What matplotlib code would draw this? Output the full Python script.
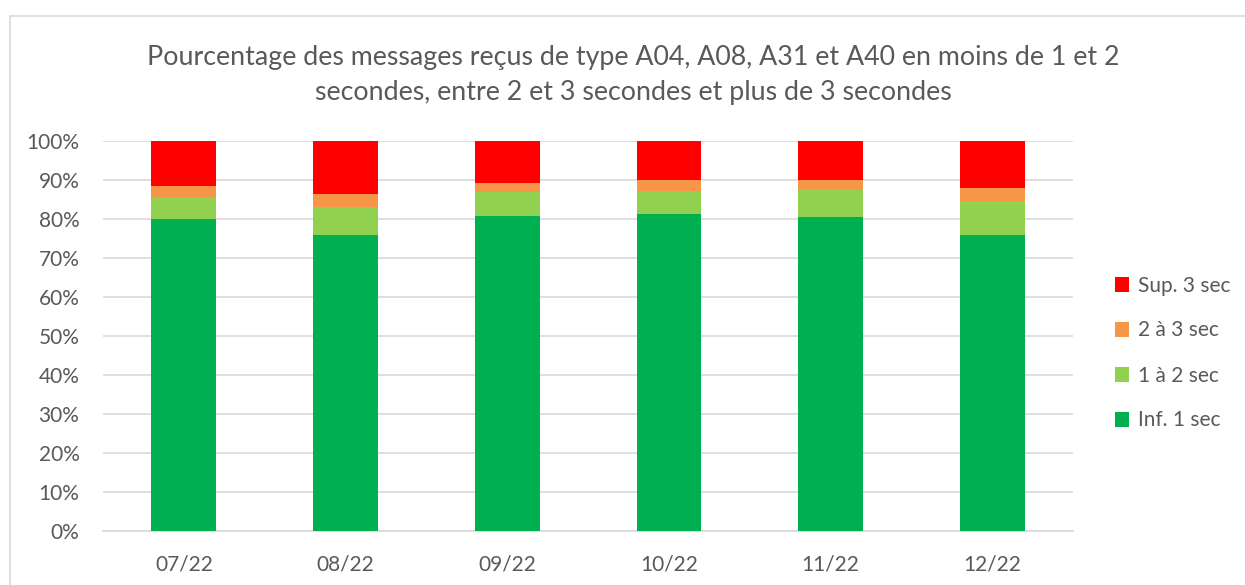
import matplotlib
matplotlib.use("Agg")
import matplotlib.pyplot as plt
import numpy as np

plt.rcParams['font.family'] = ['Lato', 'DejaVu Sans']

months = ["07/22", "08/22", "09/22", "10/22", "11/22", "12/22"]
inf_1 = [80.0, 76.0, 80.8, 81.3, 80.6, 75.8]
un_a_deux = [5.7, 7.0, 6.0, 5.8, 7.1, 8.7]
deux_a_trois = [2.7, 3.4, 2.4, 3.0, 2.4, 3.5]
sup_3 = [11.6, 13.6, 10.8, 9.9, 9.9, 12.0]

series_names = ["Inf. 1 sec", "1 à 2 sec", "2 à 3 sec", "Sup. 3 sec"]
series_colors = ["#00B050", "#92D050", "#F79646", "#FF0000"]
title = ("Pourcentage des messages reçus de type A04, A08, A31 et A40 en moins de 1 et 2\n"
         "secondes, entre 2 et 3 secondes et plus de 3 secondes")

text_color = "#595959"
grid_color = "#D9D9D9"

fig = plt.figure(figsize=(12.45, 5.85), dpi=100)
ax = fig.add_axes([103 / 1245, 1 - 531 / 585, 970 / 1245, 390 / 585])

# chart area border (top and left visible)
fig.add_artist(plt.Line2D([10 / 1245, 1.01], [1 - 16 / 585] * 2, color=grid_color, lw=1.2))
fig.add_artist(plt.Line2D([10 / 1245] * 2, [-0.01, 1 - 16 / 585], color=grid_color, lw=1.2))

x = np.arange(len(months))
bottom = np.zeros(len(months))
handles = []
for vals, name, col in zip([inf_1, un_a_deux, deux_a_trois, sup_3], series_names, series_colors):
    vals = np.array(vals) / 100.0
    h = ax.bar(x, vals, 0.4, bottom=bottom, color=col, label=name, zorder=3)
    handles.append(h)
    bottom = bottom + vals

ax.set_xlim(-0.5, len(months) - 0.5)
ax.set_ylim(0, 1)
ax.set_yticks(np.arange(0, 1.01, 0.1))
ax.set_yticklabels([f"{int(round(v * 100))}%" for v in np.arange(0, 1.01, 0.1)])
ax.set_xticks(x)
ax.set_xticklabels(months)
ax.tick_params(axis='both', length=0, labelsize=15, colors=text_color)
ax.tick_params(axis='y', pad=17)
ax.tick_params(axis='x', pad=17)

ax.grid(axis='y', color=grid_color, lw=1.2, zorder=0)
for s in ['top', 'right', 'left']:
    ax.spines[s].set_visible(False)
ax.spines['bottom'].set_color(grid_color)
ax.spines['bottom'].set_linewidth(1.2)

fig.text(633 / 1245, 1 - 75 / 585, title, ha='center', va='center', fontsize=19.3,
         color=text_color, linespacing=1.5)

leg = fig.legend(handles[::-1], series_names[::-1], loc='center left',
                 bbox_to_anchor=(1096 / 1245, 1 - 353 / 585), frameon=False,
                 fontsize=15, labelcolor=text_color, handlelength=0.7, handleheight=0.7,
                 handletextpad=0.4, labelspacing=1.2)

fig.savefig("out.png", dpi=100)
